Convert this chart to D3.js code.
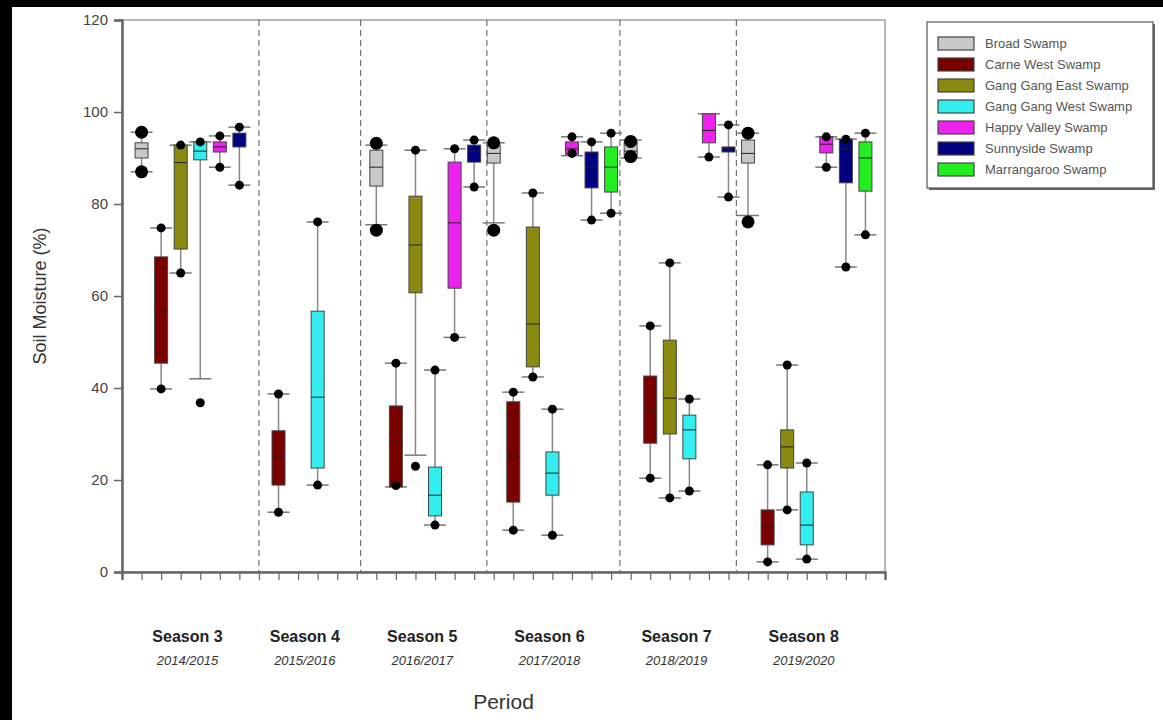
<!DOCTYPE html>
<html>
<head>
<meta charset="utf-8">
<script src="https://cdn.jsdelivr.net/npm/d3@7"></script>
<style>
  body { margin: 0; background: #fff; }
  svg { display: block; font-family: "Liberation Sans", Arial, sans-serif; }
</style>
</head>
<body>
<div id="chart"></div>
<script>
// swamp names + fill colours (legend order)
var swamps = ["Broad Swamp", "Carne West Swamp", "Gang Gang East Swamp", "Gang Gang West Swamp",
              "Happy Valley Swamp", "Sunnyside Swamp", "Marrangaroo Swamp"];
var swampColors = ["#c8c8c8", "#7a0000", "#8a8a10", "#33eeee", "#ee22ee", "#000080", "#22ee22"];

var seasons = ["Season 3", "Season 4", "Season 5", "Season 6", "Season 7", "Season 8"];
var years = ["2014/2015", "2015/2016", "2016/2017", "2017/2018", "2018/2019", "2019/2020"];
// number of box slots given to each season
var seasonSlots = [6, 6, 6, 7, 6, 7];
// dashed season separators, in slot units
var dividers = [7, 12.2, 18.65, 25.45, 31.4];
var yTicks = [0, 20, 40, 60, 80, 100, 120];

// rows: [swamp index, lower whisker, q1, median, q3, upper whisker, [dots]]
var season3 = [
  [0, 87, 90, 92, 93.3, 95.6, [87, 95.6]],
  [1, 39.8, 45.4, 57, 68.5, 74.8, [39.8, 74.8]],
  [2, 65, 70.2, 89, 92.8, 92.8, [65, 92.8]],
  [3, 42, 89.6, 91.5, 93.5, 93.5, [36.8, 93.5]],
  [4, 88, 91.3, 92.4, 93.5, 94.8, [88, 94.8]],
  [5, 84.1, 92.4, 94, 95.4, 96.7, [84.1, 96.7]]
];
var season4 = [
  [1, 13, 18.9, 25, 30.7, 38.7, [13, 38.7]],
  [3, 18.9, 22.6, 38, 56.7, 76.1, [18.9, 76.1]]
];
var season5 = [
  [0, 75.5, 83.9, 88, 91.7, 92.8, [74.3, 93.2]],
  [1, 18.5, 18.5, 28, 36.1, 45.4, [18.8, 45.4]],
  [2, 25.4, 60.7, 71.1, 81.7, 91.7, [23, 91.7]],
  [3, 10.2, 12.2, 16.7, 22.8, 43.9, [10.2, 43.9]],
  [4, 51, 61.7, 75.9, 89.1, 92, [51, 92]],
  [5, 83.7, 89.1, 91.5, 92.8, 93.9, [83.7, 93.9]]
];
var season6 = [
  [0, 75.9, 88.9, 91, 92.8, 93.3, [74.3, 93.3]],
  [1, 9.1, 15.2, 25, 37, 39.1, [9.1, 39.1]],
  [2, 42.4, 44.6, 53.9, 75, 82.4, [42.4, 82.4]],
  [3, 8, 16.7, 21.5, 26.1, 35.4, [8, 35.4]],
  [4, 90.5, 90.8, 92, 93.5, 94.6, [91, 94.6]],
  [5, 76.5, 83.5, 88, 91.3, 93.5, [76.5, 93.5]],
  [6, 78, 82.6, 88, 92.4, 95.4, [78, 95.4]]
];
var season7 = [
  [0, 90, 90.2, 91.5, 93.5, 93.9, [90.3, 93.6]],
  [1, 20.4, 28, 35, 42.6, 53.5, [20.4, 53.5]],
  [2, 16.1, 30, 37.8, 50.4, 67.2, [16.1, 67.2]],
  [3, 17.6, 24.6, 30.9, 34.1, 37.6, [17.6, 37.6]],
  [4, 90.2, 93.3, 96, 99.6, 99.6, [90.2]],
  [5, 81.5, 91.3, 92, 92.4, 97.2, [81.5, 97.2]]
];
var season8 = [
  [0, 77.5, 88.9, 91, 93.9, 95.4, [76.1, 95.4]],
  [1, 2.2, 5.9, 10, 13.5, 23.3, [2.2, 23.3]],
  [2, 13.5, 22.6, 27.2, 30.9, 45, [13.5, 45]],
  [3, 2.8, 5.9, 10.2, 17.4, 23.7, [2.8, 23.7]],
  [4, 88, 91.1, 93, 94.6, 94.6, [88, 94.6]],
  [5, 66.3, 84.6, 92, 94.1, 94.1, [66.3, 94.1]],
  [6, 73.3, 82.8, 90, 93.5, 95.4, [73.3, 95.4]]
];
var seasonData = [season3, season4, season5, season6, season7, season8];

var W = 1163, H = 720;
var mLeft = 122, mRight = 885, mTop = 20, mBottom = 572;

var svg = d3.select("#chart").append("svg")
  .attr("width", W).attr("height", H);

// dark edge strips seen on the scan
svg.append("rect").attr("x", 0).attr("y", 0).attr("width", W).attr("height", 7).attr("fill", "#000");
svg.append("rect").attr("x", 0).attr("y", 0).attr("width", 12).attr("height", H).attr("fill", "#000");

var totalSlots = d3.sum(seasonSlots) + 1;
var x = d3.scaleLinear().domain([0, totalSlots]).range([mLeft, mRight]);
var y = d3.scaleLinear().domain([0, 120]).range([mBottom, mTop]);

// season start offsets
var starts = [];
var acc = 0;
seasonSlots.forEach(function(n) { starts.push(acc); acc += n; });

// plot frame
svg.append("rect")
  .attr("x", mLeft).attr("y", mTop)
  .attr("width", mRight - mLeft).attr("height", mBottom - mTop)
  .attr("fill", "none").attr("stroke", "#888").attr("stroke-width", 1.2);

// dashed season separators
svg.selectAll(".divider").data(dividers).enter().append("line")
  .attr("class", "divider")
  .attr("x1", function(d) { return x(d); }).attr("x2", function(d) { return x(d); })
  .attr("y1", mTop).attr("y2", mBottom)
  .attr("stroke", "#555").attr("stroke-width", 1)
  .attr("stroke-dasharray", "6,4");

// y axis
var yAxis = d3.axisLeft(y).tickValues(yTicks).tickSize(8).tickPadding(6);
var gy = svg.append("g").attr("transform", "translate(" + mLeft + ",0)").call(yAxis);
gy.select(".domain").attr("stroke", "#666").attr("stroke-width", 2.5);
gy.selectAll(".tick line").attr("stroke", "#666").attr("stroke-width", 1.5);
gy.selectAll(".tick text").attr("font-size", 15).attr("fill", "#444");

// x axis: one tick per box slot
var xAxis = d3.axisBottom(x).tickValues(d3.range(1, totalSlots)).tickSize(8).tickFormat("");
var gx = svg.append("g").attr("transform", "translate(0," + mBottom + ")").call(xAxis);
gx.select(".domain").attr("stroke", "#666").attr("stroke-width", 2.5);
gx.selectAll(".tick line").attr("stroke", "#666").attr("stroke-width", 1.2);

// flatten boxes
var boxes = [];
seasonData.forEach(function(rows, si) {
  rows.forEach(function(r) {
    boxes.push({ slot: starts[si] + r[0] + 1, swamp: r[0], lo: r[1], q1: r[2], med: r[3], q3: r[4], hi: r[5], dots: r[6] });
  });
});

var boxW = 13, capW = 22;
var g = svg.selectAll(".box").data(boxes).enter().append("g").attr("class", "box");

// whiskers
g.append("line")
  .attr("x1", function(d) { return x(d.slot); }).attr("x2", function(d) { return x(d.slot); })
  .attr("y1", function(d) { return y(d.hi); }).attr("y2", function(d) { return y(d.q3); })
  .attr("stroke", "#888").attr("stroke-width", 1.5);
g.append("line")
  .attr("x1", function(d) { return x(d.slot); }).attr("x2", function(d) { return x(d.slot); })
  .attr("y1", function(d) { return y(d.q1); }).attr("y2", function(d) { return y(d.lo); })
  .attr("stroke", "#888").attr("stroke-width", 1.5);
// caps
["hi", "lo"].forEach(function(k) {
  g.append("line")
    .attr("x1", function(d) { return x(d.slot) - capW / 2; })
    .attr("x2", function(d) { return x(d.slot) + capW / 2; })
    .attr("y1", function(d) { return y(d[k]); }).attr("y2", function(d) { return y(d[k]); })
    .attr("stroke", "#777").attr("stroke-width", 1.5);
});

// boxes
g.append("rect")
  .attr("x", function(d) { return x(d.slot) - boxW / 2; })
  .attr("y", function(d) { return y(d.q3); })
  .attr("width", boxW)
  .attr("height", function(d) { return Math.max(1, y(d.q1) - y(d.q3)); })
  .attr("fill", function(d) { return swampColors[d.swamp]; })
  .attr("stroke", "#444").attr("stroke-width", 1);

// medians
g.append("line")
  .attr("x1", function(d) { return x(d.slot) - boxW / 2; })
  .attr("x2", function(d) { return x(d.slot) + boxW / 2; })
  .attr("y1", function(d) { return y(d.med); }).attr("y2", function(d) { return y(d.med); })
  .attr("stroke", "#222").attr("stroke-width", 1);

// dots
g.each(function(d) {
  d3.select(this).selectAll("circle").data(d.dots).enter().append("circle")
    .attr("cx", x(d.slot))
    .attr("cy", function(v) { return y(v); })
    .attr("r", d.swamp == 0 ? 6.5 : 4.5)
    .attr("fill", "#000");
});

// season labels
var centers = seasonSlots.map(function(n, i) { return x(starts[i] + (n + 1) / 2) - 3; });
svg.selectAll(".season").data(seasons).enter().append("text")
  .attr("x", function(d, i) { return centers[i]; })
  .attr("y", 642)
  .attr("text-anchor", "middle")
  .attr("font-size", 16).attr("font-weight", "bold").attr("fill", "#222")
  .text(function(d) { return d; });
svg.selectAll(".year").data(years).enter().append("text")
  .attr("x", function(d, i) { return centers[i]; })
  .attr("y", 665)
  .attr("text-anchor", "middle")
  .attr("font-size", 13).attr("font-style", "italic").attr("fill", "#333")
  .text(function(d) { return d; });

// axis titles
svg.append("text")
  .attr("x", (mLeft + mRight) / 2).attr("y", 709)
  .attr("text-anchor", "middle").attr("font-size", 21).attr("fill", "#333")
  .text("Period");
svg.append("text")
  .attr("transform", "translate(46," + ((mTop + mBottom) / 2) + ") rotate(-90)")
  .attr("text-anchor", "middle").attr("font-size", 18).attr("fill", "#333")
  .text("Soil Moisture (%)");

// legend
var lx = 927, ly = 22, lw = 226, lh = 166;
svg.append("rect").attr("x", lx + 2).attr("y", ly + 2).attr("width", lw).attr("height", lh)
  .attr("fill", "#666");
svg.append("rect").attr("x", lx).attr("y", ly).attr("width", lw).attr("height", lh)
  .attr("fill", "#fff").attr("stroke", "#555").attr("stroke-width", 1.2);
var leg = svg.selectAll(".leg").data(swamps).enter().append("g")
  .attr("class", "leg")
  .attr("transform", function(d, i) { return "translate(" + (lx + 11) + "," + (ly + 21 + i * 21) + ")"; });
leg.append("rect")
  .attr("x", 0).attr("y", -6).attr("width", 36).attr("height", 13)
  .attr("fill", function(d, i) { return swampColors[i]; })
  .attr("stroke", "#444").attr("stroke-width", 1.2);
leg.append("text")
  .attr("x", 47).attr("y", 5)
  .attr("font-size", 13).attr("fill", "#555")
  .text(function(d) { return d; });
</script>
</body>
</html>
